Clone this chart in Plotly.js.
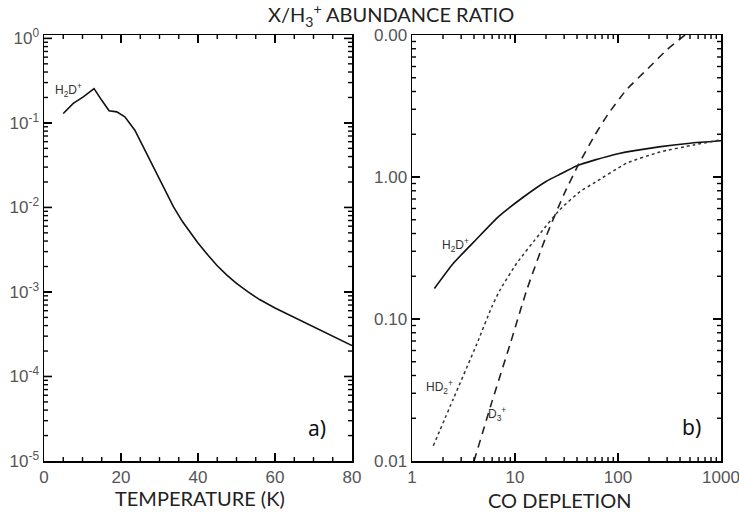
<!DOCTYPE html>
<html>
<head>
<meta charset="utf-8">
<script src="https://cdn.plot.ly/plotly-3.0.1.min.js"></script>
<style>html,body{margin:0;padding:0;background:#fff}#chart{width:739px;height:518px}</style>
</head>
<body>
<div id="chart"></div>
<script>
// Panel a) H2D+/H3+ vs temperature
const tempK = [5, 7.6, 10.2, 13, 15.0, 16.9, 18.9, 21.0, 23.6, 26.7, 30.1, 33.6, 36, 38, 40, 42.5, 45, 47.5, 50, 53, 56, 60, 65, 70, 75, 80];
const h2dTemp = [0.129, 0.17, 0.203, 0.255, 0.185, 0.139, 0.135, 0.118, 0.082, 0.0435, 0.0211, 0.0102, 0.00676, 0.00501, 0.0038, 0.00275, 0.00204, 0.00158, 0.00126, 0.001, 0.000813, 0.000646, 0.000501, 0.000389, 0.000295, 0.000232];

// Panel b) ratios vs CO depletion
const coDepH2D = [1.65, 2.5, 4.2, 7, 12, 20, 27, 40, 60, 100, 250, 500, 1000];
const h2dCO = [0.164, 0.245, 0.363, 0.53, 0.72, 0.93, 1.04, 1.20, 1.32, 1.46, 1.63, 1.73, 1.80];

const coDepHD2 = [1.61, 2.52, 4.25, 5.93, 7.15, 10.4, 17.5, 27.3, 42.8, 57.5, 121, 256, 540, 1000];
const hd2CO = [0.0128, 0.0274, 0.0665, 0.121, 0.16, 0.247, 0.40, 0.59, 0.79, 0.9, 1.25, 1.5, 1.68, 1.83];

const coDepD3 = [4, 6, 9, 13, 20, 30, 41, 60, 80, 121, 200, 300, 447];
const d3CO = [0.01, 0.0264, 0.0671, 0.16, 0.38, 0.76, 1.21, 1.99, 2.77, 4.12, 5.9, 7.9, 10];

// Tick labels
const leftYTickVals = [1e-5, 1e-4, 1e-3, 1e-2, 1e-1, 1];
const leftYTickText = ['10<sup>-5</sup>', '10<sup>-4</sup>', '10<sup>-3</sup>', '10<sup>-2</sup>', '10<sup>-1</sup>', '10<sup>0</sup>'];
const leftXTickVals = [0, 20, 40, 60, 80];
const rightXTickVals = [1, 10, 100, 1000];
const rightXTickText = ['1', '10', '100', '1000'];
const rightYTickVals = [0.01, 0.1, 1, 10];
const rightYTickText = ['0.01', '0.10', '1.00', '0.00'];

// tick-mark positions (axis decoration only)
function logMinorVals(fromExp, toExp) {
  const out = [];
  for (let e = fromExp; e < toExp; e++) for (let m = 2; m <= 9; m++) out.push(m * Math.pow(10, e));
  return out;
}
const leftXMinor = [];
for (let t = 5; t < 80; t += 5) if (t % 20 !== 0) leftXMinor.push(t);

const tickFont = {family: 'Liberation Sans, Arial, sans-serif', size: 17, color: '#555'};
const titleFont = {family: 'Lato, Open Sans, sans-serif', size: 20, color: '#222'};
const curveLabelFont = {family: 'Liberation Sans, Arial, sans-serif', size: 12, color: '#333'};

const ydom = [1 - 461/518, 1 - 35/518];
const xdomL = [44/739, 352/739];
const xdomR = [412/739, 721/739];

const axisCommon = {
  showline: true, linecolor: '#000', linewidth: 1.5, mirror: 'ticks',
  ticks: 'inside', ticklen: 8, tickwidth: 1.5, tickcolor: '#000',
  showgrid: false, zeroline: false, tickfont: tickFont, ticklabeloverflow: 'allow'
};

// tick marks as shapes: position along the axis in data units, across it in paper units (no clipping)
function xTicks(xr, vals, len, w) {
  const s = [];
  vals.forEach(function(v) {
    s.push({type: 'line', layer: 'above', xref: xr, yref: 'paper', x0: v, x1: v, ysizemode: 'pixel', yanchor: ydom[0], y0: 0, y1: len, line: {color: '#000', width: w}});
    s.push({type: 'line', layer: 'above', xref: xr, yref: 'paper', x0: v, x1: v, ysizemode: 'pixel', yanchor: ydom[1], y0: 0, y1: -len, line: {color: '#000', width: w}});
  });
  return s;
}
function yTicks(yr, xdom, vals, len, w) {
  const s = [];
  vals.forEach(function(v) {
    s.push({type: 'line', layer: 'above', xref: 'paper', yref: yr, y0: v, y1: v, xsizemode: 'pixel', xanchor: xdom[0], x0: 0, x1: len, line: {color: '#000', width: w}});
    s.push({type: 'line', layer: 'above', xref: 'paper', yref: yr, y0: v, y1: v, xsizemode: 'pixel', xanchor: xdom[1], x0: 0, x1: -len, line: {color: '#000', width: w}});
  });
  return s;
}
const shapes = [].concat(
  xTicks('x', [20, 40, 60], 8, 1.6),
  xTicks('x', leftXMinor, 4, 1.4),
  yTicks('y', xdomL, [1e-4, 1e-3, 1e-2, 1e-1, 1], 8, 1.6),
  yTicks('y', xdomL, logMinorVals(-5, 0), 4, 1.4),
  xTicks('x2', [10, 100], 8, 1.6),
  xTicks('x2', logMinorVals(0, 3), 4, 1.4),
  yTicks('y2', xdomR, [0.1, 1], 8, 1.6),
  yTicks('y2', xdomR, logMinorVals(-2, 1), 4, 1.4)
);

const traces = [
  {x: tempK, y: h2dTemp, xaxis: 'x', yaxis: 'y', mode: 'lines', line: {color: '#111', width: 1.6}},
  {x: coDepH2D, y: h2dCO, xaxis: 'x2', yaxis: 'y2', mode: 'lines', line: {color: '#111', width: 1.6, shape: 'spline', smoothing: 0.5}},
  {x: coDepHD2, y: hd2CO, xaxis: 'x2', yaxis: 'y2', mode: 'lines', line: {color: '#333', width: 1.5, dash: 'dot', shape: 'spline', smoothing: 0.5}},
  {x: coDepD3, y: d3CO, xaxis: 'x2', yaxis: 'y2', mode: 'lines', line: {color: '#222', width: 1.6, dash: '8px,6px', shape: 'spline', smoothing: 0.5}}
];

function ann(x, y, text, font) {
  return {xref: 'paper', yref: 'paper', x: x/739, y: 1 - y/518, xanchor: 'center', yanchor: 'middle', text: text, showarrow: false, font: font};
}
const layout = {
  width: 739, height: 518,
  margin: {l: 0, r: 0, t: 0, b: 0},
  paper_bgcolor: '#fff', plot_bgcolor: 'rgba(0,0,0,0)',
  showlegend: false,
  xaxis: Object.assign({}, axisCommon, {domain: xdomL, range: [0, 80], tickmode: 'array', tickvals: leftXTickVals, anchor: 'y'}),
  yaxis: Object.assign({}, axisCommon, {domain: ydom, type: 'log', range: [-5, 0.04], tickmode: 'array', tickvals: leftYTickVals, ticktext: leftYTickText, anchor: 'x'}),
  xaxis2: Object.assign({}, axisCommon, {domain: xdomR, type: 'log', range: [0, 3], tickmode: 'array', tickvals: rightXTickVals, ticktext: rightXTickText, anchor: 'y2'}),
  yaxis2: Object.assign({}, axisCommon, {domain: ydom, type: 'log', range: [-2, 1], tickmode: 'array', tickvals: rightYTickVals, ticktext: rightYTickText, anchor: 'x2'}),
  shapes: shapes,
  annotations: [
    ann(391, 15, 'X/H<sub>3</sub><sup>+</sup> ABUNDANCE RATIO', {family: 'Lato, Open Sans, sans-serif', size: 20, color: '#222'}),
    ann(200, 498, 'TEMPERATURE (K)', titleFont),
    ann(560, 500, 'CO DEPLETION', titleFont),
    ann(317, 428, 'a)', {family: 'Noto Sans, sans-serif', size: 21, color: '#111'}),
    ann(691, 427, 'b)', {family: 'Noto Sans, sans-serif', size: 21, color: '#111'}),
    ann(68, 90, 'H<sub>2</sub>D<sup>+</sup>', curveLabelFont),
    ann(455, 245, 'H<sub>2</sub>D<sup>+</sup>', curveLabelFont),
    ann(440, 387, 'HD<sub>2</sub><sup>+</sup>', curveLabelFont),
    ann(497, 414, 'D<sub>3</sub><sup>+</sup>', curveLabelFont)
  ]
};

Plotly.newPlot('chart', traces, layout, {staticPlot: true, displayModeBar: false});
</script>
</body>
</html>
